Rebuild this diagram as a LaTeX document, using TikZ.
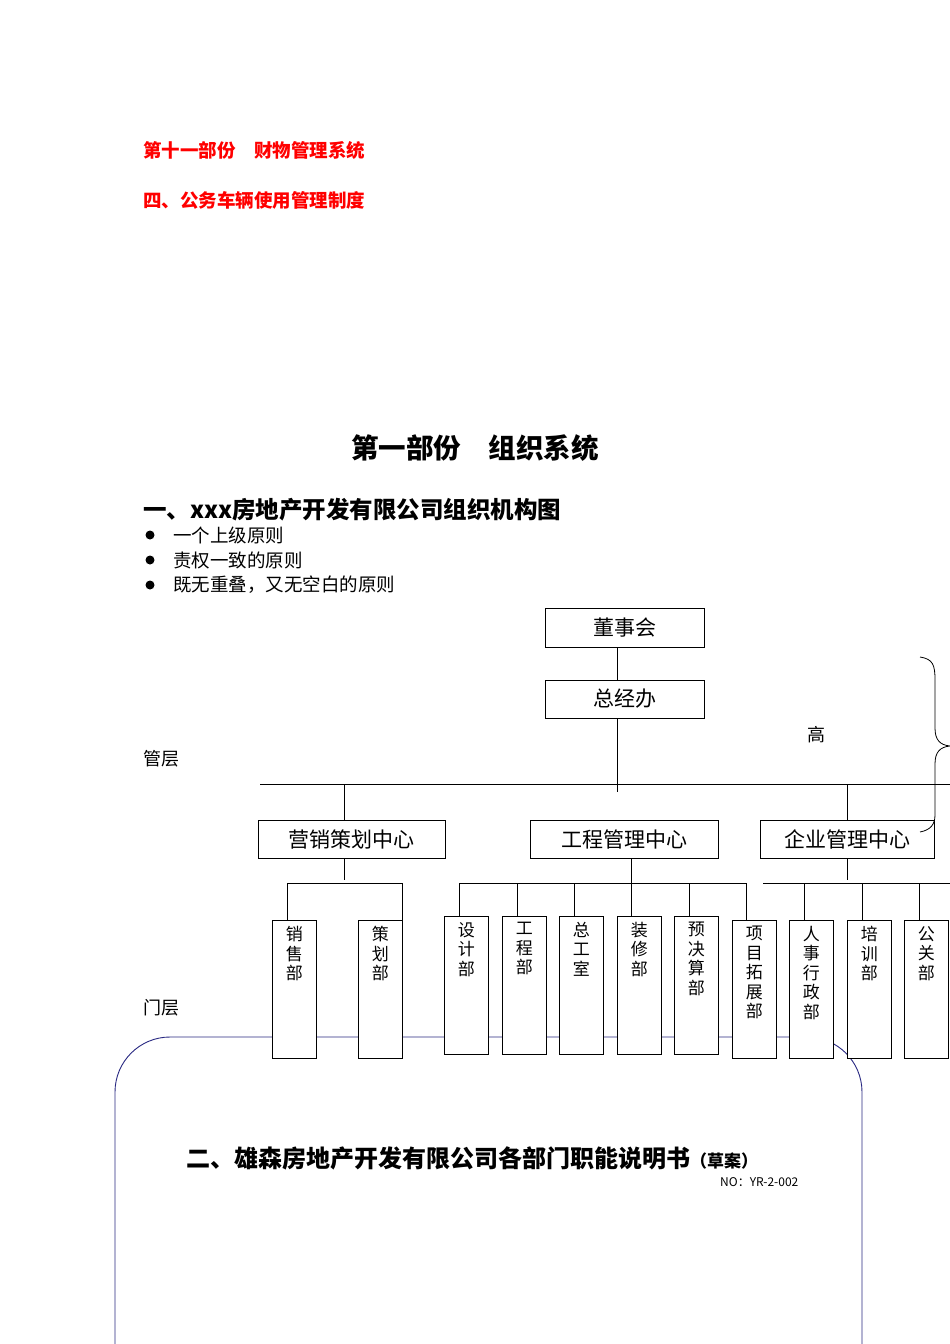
\documentclass[tikz,border=0pt]{standalone}
\usepackage{fontspec}
\usetikzlibrary{calc}
\setmainfont{Noto Sans CJK SC}
\begin{document}
\begin{tikzpicture}[x=1pt,y=-1pt,
  box/.style={draw,fill=white,line width=0.8pt,inner sep=0pt,font=\fontsize{21}{22}\selectfont},
  vbox/.style={draw,fill=white,line width=0.8pt,minimum width=44pt,anchor=north west,inner sep=0pt},
  vt/.style={anchor=north,align=center,font=\fontsize{17}{19.5}\selectfont,inner sep=0pt},
  ln/.style={line width=0.8pt},
  red/.style={text=red,font=\fontsize{18.5}{20}\selectfont\bfseries,anchor=west,inner sep=0pt}]
\fill[white] (0,0) rectangle (950,1344);
\useasboundingbox (0,0) rectangle (950,1344);
\node[red] (h1) at (143,150) {第十一部份\quad 财物管理系统};
\node[red] (h2) at (143,200) {四、公务车辆使用管理制度};
\node[font=\fontsize{27.5}{30}\selectfont\bfseries] (t1) at (475,448) {第一部份\quad 组织系统};
\node[anchor=west,inner sep=0pt,font=\fontsize{23.5}{26}\selectfont\bfseries] (t2) at (143,510) {一、xxx房地产开发有限公司组织机构图};
\foreach \y/\t [count=\i] in {535/一个上级原则,560/责权一致的原则,585/既无重叠，又无空白的原则}{
  \fill (150,\y) circle (4.5);
  \node[anchor=west,inner sep=0pt,font=\fontsize{18.5}{20}\selectfont] (b\i) at (173,\y) {\t};
}
\node[font=\fontsize{18}{20}\selectfont] (gao) at (816,735) {高};
\node[anchor=west,inner sep=0pt,font=\fontsize{18}{20}\selectfont] (gc) at (143,759) {管层};
\node[anchor=west,inner sep=0pt,font=\fontsize{18}{20}\selectfont] (mc) at (143,1008) {门层};
\draw[color={rgb,255:red,40;green,40;blue,130},line width=0.9pt,rounded corners=55pt] (115,1400) -- (115,1037) -- (862,1037) -- (862,1400);
\node[anchor=west,inner sep=0pt,font=\fontsize{24}{26}\selectfont\bfseries] (t3) at (186,1158) {二、雄森房地产开发有限公司各部门职能说明书{\fontsize{17}{18}\selectfont（草案）}};
\node[anchor=west,inner sep=0pt,font=\fontsize{12}{13}\selectfont] (no) at (720,1182) {NO：YR-2-002};
\node[box,minimum width=159pt,minimum height=39pt] (dsh) at (624.5,627.5) {董事会};
\node[box,minimum width=159pt,minimum height=38pt] (zjb) at (624.5,699) {总经办};
\draw[ln] (617,647) -- (617,680);
\coordinate (hb) at (617,792);
\draw[ln] (617,718) -- (hb);
\draw[ln] (260,784) -- (950,784);
\node[box,minimum width=187pt,minimum height=38pt] (yx) at (351.5,839) {营销策划中心};
\node[box,minimum width=188pt,minimum height=38pt] (gc2) at (624,839) {工程管理中心};
\node[box,minimum width=174pt,minimum height=38pt] (qy) at (847,839) {企业管理中心};
\draw[ln] (344,784) -- (344,820);
\draw[ln] (847,784) -- (847,820);
\draw[ln] (344,858) -- (344,880);
\draw[ln] (631,858) -- (631,916);
\draw[ln] (847,858) -- (847,880);
\draw[ln] (287,883) -- (402,883);
\draw[ln] (459,883) -- (746,883);
\draw[ln] (763,883) -- (950,883);
\draw[ln] (950,784) -- (950,1058);
\foreach \n/\x/\y/\h/\t in {
  xs/272/920/138/销\\售\\部,
  ch/358/920/138/策\\划\\部,
  sj/444/916/138/设\\计\\部,
  gcb/502/916/138/工\\程\\部,
  zg/559/916/138/总\\工\\室,
  zx/617/916/138/装\\修\\部,
  yj/674/916/138/预\\决\\算\\部,
  xm/732/920/138/项\\目\\拓\\展\\部,
  rs/789/920/138/人\\事\\行\\政\\部,
  px/847/920/138/培\\训\\部,
  gg/904/920/138/公\\关\\部}{
  \node[vbox,minimum height=\h pt] (\n) at (\x,\y) {};
  \node[vt] at ($(\n.north)+(0,6)$) {\t};
}
\foreach \x/\y in {287/920,402/920,459/916,517/916,574/916,689/916,746/920,804/920,862/920,919/920}
  \draw[ln] (\x,883) -- (\x,\y);
\draw[line width=0.8pt] (920,657) .. controls (933,659) and (935,665) .. (935,680)
  -- (935,728) .. controls (935,740) and (940,745) .. (950,746)
  .. controls (940,747) and (935,752) .. (935,764)
  -- (935,815) .. controls (935,825) and (930,830) .. (920,832);
\draw[ln] (950,645) -- (950,706);
\end{tikzpicture}
\end{document}
